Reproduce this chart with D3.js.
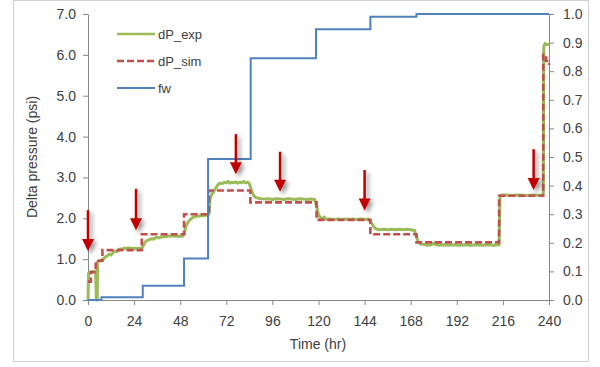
<!DOCTYPE html>
<html>
<head>
<meta charset="utf-8">
<script src="https://cdn.jsdelivr.net/npm/d3@7"></script>
<style>
  body { margin: 0; background: #fff; }
  text { font-family: "Liberation Sans", Arial, sans-serif; fill: #404040; }
</style>
</head>
<body>
<svg width="600" height="367"></svg>
<script>
// dP vs time with water fraction on the right axis

var xTicks = [0, 24, 48, 72, 96, 120, 144, 168, 192, 216, 240];
var leftTicks = [0, 1, 2, 3, 4, 5, 6, 7];
var rightTicks = [0, 0.1, 0.2, 0.3, 0.4, 0.5, 0.6, 0.7, 0.8, 0.9, 1.0];

// measured pressure drop [hr, psi]
var dpExp = [
  [0,0],[0.3,0.65],[1,0.68],[2,0.7],[3,0.7],[4,0.7],[4.3,0],[4.8,0],[5,0.93],[6,0.95],
  [7,0.98],[8,1.0],[9,1.05],[10,1.08],[11,1.12],[12,1.1],[13,1.16],[14,1.2],[15,1.18],
  [16,1.23],[17,1.25],[18,1.24],[19,1.27],[20,1.26],[21,1.28],[22,1.26],[23,1.27],
  [24,1.25],[25,1.27],[26,1.26],[27,1.27],[28,1.26],[29,1.35],[30,1.43],[31,1.46],
  [32,1.48],[33,1.5],[34,1.49],[35,1.52],[36,1.53],[37,1.52],[38,1.55],[39,1.54],
  [40,1.56],[41,1.55],[42,1.57],[43,1.56],[44,1.58],[45,1.56],[46,1.57],[47,1.55],
  [48,1.57],[49,1.56],[50,1.6],[51,1.82],[52,1.9],[53,1.96],[54,2.0],[55,2.03],
  [56,2.04],[57,2.06],[58,2.05],[59,2.07],[60,2.06],[61,2.08],[62,2.07],[63,2.1],
  [63.5,2.45],[64,2.55],[65,2.62],[66,2.7],[67,2.78],[68,2.84],[69,2.86],[70,2.85],
  [71,2.88],[72,2.87],[73,2.9],[74,2.86],[75,2.88],[76,2.87],[77,2.89],[78,2.86],
  [79,2.88],[80,2.87],[81,2.9],[82,2.87],[83,2.88],[84,2.85],[85,2.7],[86,2.58],
  [87,2.52],[88,2.5],[90,2.48],[92,2.47],[94,2.48],[96,2.46],[98,2.48],[100,2.47],
  [102,2.46],[104,2.48],[106,2.47],[108,2.46],[110,2.48],[112,2.47],[114,2.46],
  [116,2.47],[118,2.46],[119,2.3],[120,2.08],[121,2.02],[122,1.98],[123,2.03],
  [124,1.97],[126,1.98],[128,1.97],[130,1.98],[132,1.97],[134,1.98],[136,1.97],
  [138,1.98],[140,1.97],[142,1.98],[144,1.97],[146,1.98],[147,1.93],[148,1.85],
  [149,1.78],[150,1.74],[152,1.72],[154,1.73],[156,1.72],[158,1.73],[160,1.72],
  [162,1.73],[164,1.72],[166,1.73],[168,1.72],[170,1.7],[171,1.55],[172,1.42],
  [173,1.37],[175,1.36],[177,1.34],[179,1.36],[180,1.4],[181,1.35],[183,1.34],
  [185,1.35],[188,1.34],[190,1.35],[193,1.34],[196,1.35],[199,1.34],[202,1.35],
  [205,1.34],[208,1.35],[211,1.34],[214,1.35],[214.5,2.55],[216,2.57],[220,2.56],
  [224,2.57],[228,2.56],[232,2.57],[236,2.56],[237,2.6],[237.3,6.2],[238,6.28],
  [239,6.25],[240,6.26]
];

// simulated pressure drop (steps) [hr, psi]
var dpSim = [
  [0,0.45],[1.5,0.68],[4,0.96],[7.5,1.22],[28,1.61],[50,2.1],[63,2.68],[84.5,2.39],
  [119,1.96],[147,1.61],[171,1.41],[214,2.55],[237,6.0],[238.5,5.85],[240,5.75]
];

// water fraction (steps) [hr, fraction]
var fw = [
  [0,0],[7,0.01],[28.5,0.05],[50,0.145],[62.5,0.493],[84.7,0.845],[118.7,0.947],
  [147,0.99],[171,1.0],[240,1.0]
];

// arrows: time, top and tip in psi
var arrowTimes = [0, 25, 77, 100, 144, 232];
var arrowTop = [2.2, 2.72, 4.06, 3.63, 3.18, 3.69];
var arrowTip = [1.2, 1.71, 3.08, 2.65, 2.19, 2.69];

var svg = d3.select("svg");

var x = d3.scaleLinear().domain([0, 240]).range([88, 549]);
var yL = d3.scaleLinear().domain([0, 7]).range([300, 14]);
var yR = d3.scaleLinear().domain([0, 1]).range([300, 14]);

var axisColor = "#868686";

// outer border
svg.append("rect")
    .attr("x", 13.5).attr("y", 0.5)
    .attr("width", 575).attr("height", 361)
    .attr("fill", "none")
    .attr("stroke", "#d0d0d0");

var defs = svg.append("defs");
var shadow = defs.append("filter")
    .attr("id", "shadow")
    .attr("x", "-50%").attr("y", "-50%")
    .attr("width", "200%").attr("height", "200%");
shadow.append("feDropShadow")
    .attr("dx", 3).attr("dy", 3)
    .attr("stdDeviation", 2)
    .attr("flood-color", "#000")
    .attr("flood-opacity", 0.4);

function styleAxis(g) {
    g.select(".domain").attr("stroke", axisColor);
    g.selectAll(".tick line").attr("stroke", axisColor);
    g.selectAll(".tick text")
        .attr("fill", "#404040")
        .style("font-size", "14px")
        .style("font-family", "'Liberation Sans', Arial, sans-serif");
}

svg.append("g")
    .attr("transform", "translate(0,300)")
    .call(d3.axisBottom(x).tickValues(xTicks).tickSize(5).tickSizeOuter(0).tickPadding(11))
    .call(styleAxis);

svg.append("g")
    .attr("transform", "translate(88,0)")
    .call(d3.axisLeft(yL).tickValues(leftTicks).tickFormat(d3.format(".1f"))
        .tickSize(5).tickSizeOuter(0).tickPadding(7))
    .call(styleAxis);

svg.append("g")
    .attr("transform", "translate(549,0)")
    .call(d3.axisRight(yR).tickValues(rightTicks).tickFormat(d3.format(".1f"))
        .tickSize(5).tickSizeOuter(0).tickPadding(9))
    .call(styleAxis);

// axis titles
svg.append("text")
    .attr("x", 318).attr("y", 349)
    .attr("text-anchor", "middle")
    .style("font-size", "14px")
    .text("Time (hr)");

svg.append("text")
    .attr("transform", "translate(37,157) rotate(-90)")
    .attr("text-anchor", "middle")
    .style("font-size", "14px")
    .text("Delta pressure (psi)");

var lineL = d3.line()
    .x(function (d) { return x(d[0]); })
    .y(function (d) { return yL(d[1]); });

var stepL = d3.line()
    .curve(d3.curveStepAfter)
    .x(function (d) { return x(d[0]); })
    .y(function (d) { return yL(d[1]); });

var stepR = d3.line()
    .curve(d3.curveStepAfter)
    .x(function (d) { return x(d[0]); })
    .y(function (d) { return yR(d[1]); });

svg.append("path")
    .datum(dpExp)
    .attr("d", lineL)
    .attr("fill", "none")
    .attr("stroke", "#9bbb59")
    .attr("stroke-width", 3)
    .attr("stroke-linejoin", "round");

svg.append("path")
    .datum(dpSim)
    .attr("d", stepL)
    .attr("fill", "none")
    .attr("stroke", "#c0504d")
    .attr("stroke-width", 2.6)
    .attr("stroke-dasharray", "7,3");

svg.append("path")
    .datum(fw)
    .attr("d", stepR)
    .attr("fill", "none")
    .attr("stroke", "#4f81bd")
    .attr("stroke-width", 2);

// arrows
var arrows = svg.append("g")
    .attr("class", "arrows")
    .attr("filter", "url(#shadow)")
    .selectAll("g")
    .data(arrowTimes)
    .enter().append("g");

arrows.append("line")
    .attr("x1", function (d) { return x(d); })
    .attr("x2", function (d) { return x(d); })
    .attr("y1", function (d, i) { return yL(arrowTop[i]); })
    .attr("y2", function (d, i) { return yL(arrowTip[i]) - 10; })
    .attr("stroke", "#c00000")
    .attr("stroke-width", 2.5);

arrows.append("path")
    .attr("d", function (d, i) {
        var cx = x(d), tip = yL(arrowTip[i]);
        return "M" + (cx - 6) + "," + (tip - 12) + "L" + (cx + 6) + "," + (tip - 12) + "L" + cx + "," + tip + "Z";
    })
    .attr("fill", "#c00000");

// legend
var legendItems = [
    { name: "dP_exp", color: "#9bbb59", dash: null, width: 2.6 },
    { name: "dP_sim", color: "#c0504d", dash: "7,3", width: 2.6 },
    { name: "fw", color: "#4f81bd", dash: null, width: 2 }
];

var legend = svg.append("g")
    .selectAll("g")
    .data(legendItems)
    .enter().append("g")
    .attr("transform", function (d, i) { return "translate(117," + (34 + i * 27) + ")"; });

legend.append("line")
    .attr("x1", 0).attr("x2", 38)
    .attr("stroke", function (d) { return d.color; })
    .attr("stroke-width", function (d) { return d.width; })
    .attr("stroke-dasharray", function (d) { return d.dash; });

legend.append("text")
    .attr("x", 41).attr("dy", "0.35em")
    .style("font-size", "13px")
    .text(function (d) { return d.name; });
</script>
</body>
</html>
